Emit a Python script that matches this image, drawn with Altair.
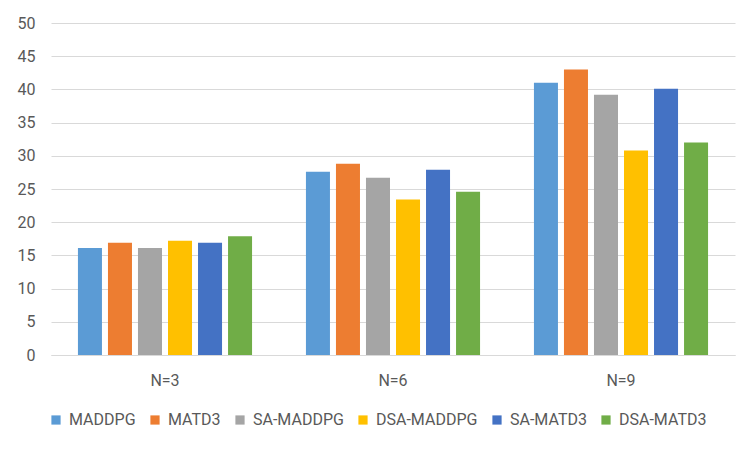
import altair as alt
import pandas as pd

groups = ["N=3", "N=6", "N=9"]
methods = ["MADDPG", "MATD3", "SA-MADDPG", "DSA-MADDPG", "SA-MATD3", "DSA-MATD3"]
colors = ["#5B9BD5", "#ED7D31", "#A5A5A5", "#FFC000", "#4472C4", "#70AD47"]

maddpg = [16.1, 27.6, 41.0]
matd3 = [16.9, 28.8, 43.0]
sa_maddpg = [16.1, 26.7, 39.2]
dsa_maddpg = [17.2, 23.4, 30.8]
sa_matd3 = [16.9, 27.9, 40.1]
dsa_matd3 = [17.9, 24.6, 32.0]

series = [maddpg, matd3, sa_maddpg, dsa_maddpg, sa_matd3, dsa_matd3]
rows = []
for m, vals in zip(methods, series):
    for g, v in zip(groups, vals):
        rows.append({"group": g, "method": m, "value": v})
df = pd.DataFrame(rows)

FONT = "Roboto"
TXT = "#595959"

chart = alt.Chart(df).mark_bar().encode(
    x=alt.X("group:N", sort=groups, title=None,
            scale=alt.Scale(paddingInner=0.21, paddingOuter=0.105),
            axis=alt.Axis(labelAngle=0, domain=True, domainColor="#D9D9D9", ticks=False,
                          labelPadding=17, labelFontSize=16, labelColor=TXT, labelFont=FONT)),
    xOffset=alt.XOffset("method:N", sort=methods,
                        scale=alt.Scale(paddingInner=0.2, paddingOuter=0.1)),
    y=alt.Y("value:Q", title=None,
            scale=alt.Scale(domain=[0, 50], nice=False),
            axis=alt.Axis(values=list(range(0, 51, 5)), domain=False, ticks=False,
                          gridColor="#D9D9D9", gridWidth=1.2, labelPadding=16,
                          labelFontSize=16, labelColor=TXT, labelFont=FONT)),
    color=alt.Color("method:N", sort=methods,
                    scale=alt.Scale(domain=methods, range=colors),
                    legend=alt.Legend(title=None, orient="none", legendX=-3, legendY=389,
                                      direction="horizontal", columns=6,
                                      symbolType="square", symbolSize=85,
                                      symbolStrokeWidth=0, labelFontSize=16,
                                      labelColor=TXT, labelFont=FONT,
                                      columnPadding=11, labelOffset=5)),
).properties(
    width=684, height=332,
    background="white",
    autosize=alt.AutoSizeParams(type="none"),
    padding={"left": 43, "top": 15, "right": 9, "bottom": 90},
).configure_view(stroke=None)

chart.save("out.html", embed_options={"renderer": "svg", "actions": False})
